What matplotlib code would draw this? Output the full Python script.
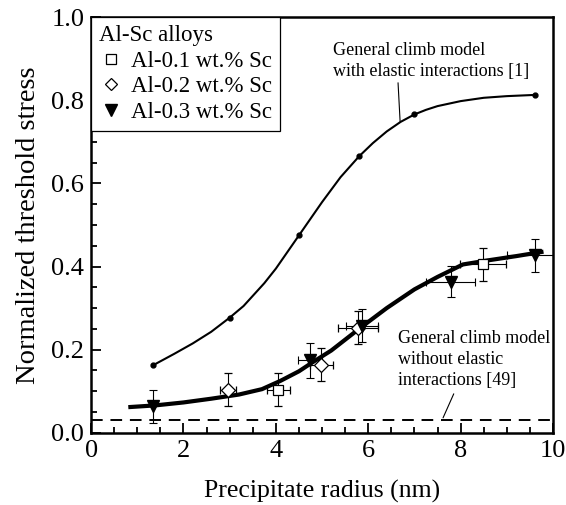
import matplotlib.pyplot as plt
from matplotlib.lines import Line2D

plt.rcParams["font.family"] = ["Liberation Serif", "DejaVu Serif"]

# upper curve: general climb model with elastic interactions
elastic_x = [1.35, 1.8, 2.2, 2.6, 3.0, 3.3, 3.75, 4.0, 4.25, 4.5, 4.75, 5.0, 5.2, 5.4,
             5.6, 5.8, 6.1, 6.4, 6.7, 7.0, 7.25, 7.5, 8.0, 8.5, 9.0, 9.62]
elastic_y = [0.163, 0.19, 0.215, 0.243, 0.277, 0.305, 0.36, 0.395, 0.435, 0.475, 0.515,
             0.555, 0.585, 0.615, 0.64, 0.665, 0.697, 0.725, 0.748, 0.766, 0.777,
             0.786, 0.798, 0.806, 0.81, 0.813]
elastic_dots_x = [1.35, 3.0, 4.5, 5.8, 7.0, 9.62]
elastic_dots_y = [0.163, 0.277, 0.475, 0.665, 0.766, 0.813]

# thick fit curve through the data
fit_x = [0.85, 1.4, 2.0, 2.6, 3.2, 3.7, 4.1, 4.5, 4.8, 5.2, 5.8, 6.4, 7.0, 7.5, 8.05, 8.6, 9.2, 9.75]
fit_y = [0.062, 0.066, 0.073, 0.082, 0.092, 0.105, 0.125, 0.148, 0.17, 0.198, 0.25, 0.30, 0.345, 0.375, 0.405, 0.415, 0.425, 0.435]

# without elastic interactions (dashed)
noel_x = [0.0, 10.0]
noel_y = [0.03, 0.03]

# Al-0.1 wt.% Sc
sc01_x = [4.05, 8.48]
sc01_y = [0.104, 0.405]
sc01_xerr = [0.25, 0.5]
sc01_yerr = [0.04, 0.04]

# Al-0.2 wt.% Sc
sc02_x = [2.97, 4.98, 5.78]
sc02_y = [0.104, 0.164, 0.253]
sc02_xerr = [0.17, 0.25, 0.43]
sc02_yerr = [0.04, 0.04, 0.04]

# Al-0.3 wt.% Sc
sc03_x = [1.34, 4.74, 5.87, 7.79, 9.61]
sc03_y = [0.064, 0.175, 0.258, 0.364, 0.427]
sc03_xerr = [0.0, 0.25, 0.35, 0.53, 0.6]
sc03_yerr = [0.04, 0.042, 0.04, 0.038, 0.04]

fig = plt.figure(figsize=(5.66, 5.05), dpi=100)
ax = fig.add_axes([0.161, 0.143, 0.816, 0.823])

ax.plot(elastic_x, elastic_y, color="black", lw=1.5)
ax.plot(elastic_dots_x, elastic_dots_y, "o", color="black", ms=3.5)
ax.plot(fit_x, fit_y, color="black", lw=3)
ax.plot(noel_x, noel_y, color="black", lw=1.4, dashes=(6, 4))

eb = dict(ecolor="black", elinewidth=0.8, capsize=3, capthick=0.8, linestyle="none")
ax.errorbar(sc01_x, sc01_y, xerr=sc01_xerr, yerr=sc01_yerr, marker="s", ms=7,
            mfc="white", mec="black", mew=0.9, **eb)
ax.errorbar(sc02_x, sc02_y, xerr=sc02_xerr, yerr=sc02_yerr, marker="D", ms=7,
            mfc="white", mec="black", mew=0.9, **eb)
ax.errorbar(sc03_x, sc03_y, xerr=sc03_xerr, yerr=sc03_yerr, marker="v", ms=9,
            mfc="black", mec="black", **eb)

ax.annotate("General climb model\nwith elastic interactions [1]", xy=(6.69, 0.749),
            xytext=(5.24, 0.94), ha="left", va="top", fontsize=13, linespacing=1.3,
            arrowprops=dict(arrowstyle="-", color="black", lw=0.8, shrinkA=0, shrinkB=0,
                            relpos=(0.33, 0.0)))
ax.annotate("General climb model\nwithout elastic\ninteractions [49]", xy=(7.62, 0.036),
            xytext=(6.65, 0.248), ha="left", va="top", fontsize=13, linespacing=1.3,
            arrowprops=dict(arrowstyle="-", color="black", lw=0.8, shrinkA=2, shrinkB=0,
                            relpos=(0.38, 0.0)))

ax.set_xlim(0, 10)
ax.set_ylim(0, 1.0)
ax.set_xticks([0, 2, 4, 6, 8, 10])
ax.set_xticks([x * 0.5 for x in range(21)], minor=True)
ax.set_yticks([0.0, 0.2, 0.4, 0.6, 0.8, 1.0])
ax.set_yticks([y * 0.05 for y in range(21)], minor=True)
ax.set_yticklabels(["0.0", "0.2", "0.4", "0.6", "0.8", "1.0"])
ax.tick_params(which="both", direction="in", labelsize=19, width=1.3)
ax.tick_params(which="major", length=7, pad=5)
ax.tick_params(which="minor", length=4)
for s in ax.spines.values():
    s.set_linewidth(1.8)

ax.set_xlabel("Precipitate radius (nm)", fontsize=18.5, labelpad=13)
ax.set_ylabel("Normalized threshold stress", fontsize=20.5, labelpad=7)

handles = [
    Line2D([], [], ls="none", marker="s", ms=6.5, mfc="white", mec="black", mew=0.9),
    Line2D([], [], ls="none", marker="D", ms=6.5, mfc="white", mec="black", mew=0.9),
    Line2D([], [], ls="none", marker="v", ms=8, mfc="black", mec="black"),
]
labels = ["Al-0.1 wt.% Sc", "Al-0.2 wt.% Sc", "Al-0.3 wt.% Sc"]
leg = ax.legend(handles, labels, loc="upper left", title="Al-Sc alloys", fontsize=16.5,
                title_fontsize=16.5, alignment="left", borderaxespad=0, frameon=True,
                fancybox=False, framealpha=1, edgecolor="black", handlelength=1.0,
                handletextpad=0.4, labelspacing=0.2, borderpad=0.35)
leg.get_frame().set_linewidth(0.9)

fig.savefig("out.png", dpi=100)
